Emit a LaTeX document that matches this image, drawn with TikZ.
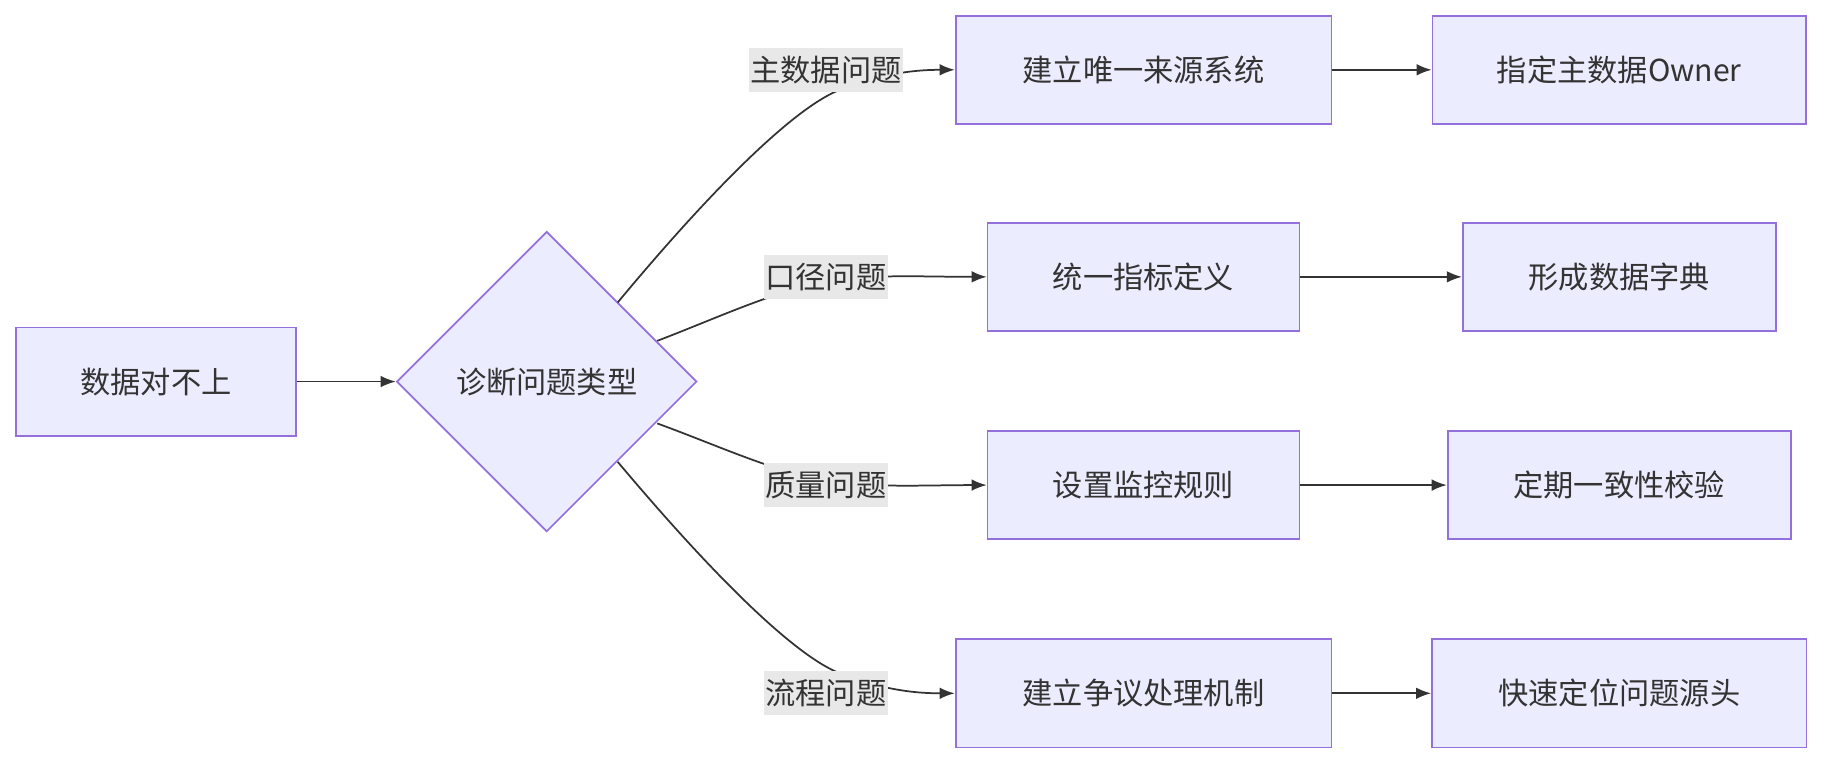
\documentclass[tikz,border=0pt]{standalone}
\usepackage{fontspec}
\setmainfont{Noto Sans CJK SC}
\usetikzlibrary{shapes.geometric,arrows.meta}
\definecolor{nf}{HTML}{ECECFF}
\definecolor{ns}{HTML}{9370DB}
\definecolor{lb}{HTML}{E8E8E8}
\definecolor{ed}{HTML}{333333}
\begin{document}
\begin{tikzpicture}[x=1pt,y=-1pt,
  box/.style={draw=ns,fill=nf,line width=1.5pt,minimum height=93pt,inner sep=0pt,font=\fontsize{26}{30}\selectfont,text=ed},
  lab/.style={fill=lb,inner sep=1pt,minimum height=38pt,font=\fontsize{26}{30}\selectfont,text=ed},
  arr/.style={draw=ed,line width=1.5pt,-{Latex[length=13pt,width=10pt]}},
  ln/.style={draw=ed,line width=1.5pt}]
\useasboundingbox (0,0) rectangle (1568,656);
\node[box,minimum width=241pt] (a) at (134,328) {数据对不上};
\node[diamond,draw=ns,fill=nf,line width=1.5pt,minimum width=258pt,minimum height=258pt,inner sep=0pt,font=\fontsize{26}{30}\selectfont,text=ed] (d) at (470,328) {诊断问题类型};
\node[box,minimum width=323pt] (b1) at (983,60) {建立唯一来源系统};
\node[box,minimum width=321pt] (c1) at (1392,60) {指定主数据Owner};
\node[box,minimum width=268pt] (b2) at (983,238) {统一指标定义};
\node[box,minimum width=269pt] (c2) at (1392,238) {形成数据字典};
\node[box,minimum width=268pt] (b3) at (983,417) {设置监控规则};
\node[box,minimum width=295pt] (c3) at (1392,417) {定期一致性校验};
\node[box,minimum width=323pt] (b4) at (983,596) {建立争议处理机制};
\node[box,minimum width=322pt] (c4) at (1392,596) {快速定位问题源头};
\draw[arr] (a) -- (d);
\coordinate (s1) at (531,260); \coordinate (m1) at (720,78);
\coordinate (s2) at (565,293); \coordinate (m2) at (720,240);
\coordinate (s3) at (565,364); \coordinate (m3) at (720,415);
\coordinate (s4) at (531,397); \coordinate (m4) at (720,578);
\draw[arr] (s1) .. controls (610,165) and (680,95) .. (m1) .. controls (760,62) and (790,60) .. (b1.west);
\draw[arr] (s2) .. controls (620,272) and (670,248) .. (m2) .. controls (760,236) and (800,238) .. (b2.west);
\draw[arr] (s3) .. controls (620,384) and (670,408) .. (m3) .. controls (760,419) and (800,417) .. (b3.west);
\draw[arr] (s4) .. controls (610,491) and (680,561) .. (m4) .. controls (760,594) and (790,596) .. (b4.west);
\node[lab] (l1) at (710,60) {主数据问题};
\node[lab] (l2) at (710,238) {口径问题};
\node[lab] (l3) at (710,417) {质量问题};
\node[lab] (l4) at (710,596) {流程问题};
\draw[arr] (b1) -- (c1);
\draw[arr] (b2) -- (c2);
\draw[arr] (b3) -- (c3);
\draw[arr] (b4) -- (c4);
\end{tikzpicture}
\end{document}
